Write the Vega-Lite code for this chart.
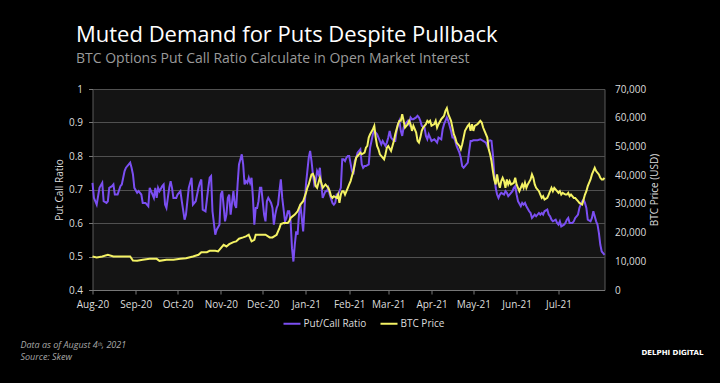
{
  "$schema": "https://vega.github.io/schema/vega-lite/v6.json",
  "width": 512,
  "height": 201,
  "autosize": {"type": "none"},
  "padding": {"left": 92.5, "top": 89, "right": 115.5, "bottom": 93},
  "background": "#000000",
  "title": {
    "text": "Muted Demand for Puts Despite Pullback",
    "subtitle": "BTC Options Put Call Ratio Calculate in Open Market Interest",
    "anchor": "start",
    "frame": "group",
    "dx": -16.5,
    "font": "Open Sans",
    "fontSize": 22,
    "fontWeight": "normal",
    "color": "#ffffff",
    "subtitleFont": "Open Sans",
    "subtitleFontSize": 14,
    "subtitleColor": "#9a9a9a",
    "subtitlePadding": 5,
    "offset": 17
  },
  "datasets": {
    "pcr": [
      {"date": "2020-08-01T00:00", "value": 0.72},
      {"date": "2020-08-02T00:00", "value": 0.675},
      {"date": "2020-08-04T00:00", "value": 0.655},
      {"date": "2020-08-06T00:00", "value": 0.705},
      {"date": "2020-08-08T00:00", "value": 0.72},
      {"date": "2020-08-09T00:00", "value": 0.665},
      {"date": "2020-08-11T00:00", "value": 0.66},
      {"date": "2020-08-12T00:00", "value": 0.665},
      {"date": "2020-08-13T00:00", "value": 0.705},
      {"date": "2020-08-15T00:00", "value": 0.71},
      {"date": "2020-08-16T00:00", "value": 0.715},
      {"date": "2020-08-17T00:00", "value": 0.685},
      {"date": "2020-08-19T00:00", "value": 0.685},
      {"date": "2020-08-21T00:00", "value": 0.71},
      {"date": "2020-08-22T00:00", "value": 0.715},
      {"date": "2020-08-24T00:00", "value": 0.755},
      {"date": "2020-08-25T00:00", "value": 0.765},
      {"date": "2020-08-27T00:00", "value": 0.775},
      {"date": "2020-08-28T00:00", "value": 0.78},
      {"date": "2020-08-29T00:00", "value": 0.765},
      {"date": "2020-08-30T00:00", "value": 0.745},
      {"date": "2020-08-31T00:00", "value": 0.705},
      {"date": "2020-09-02T00:00", "value": 0.69},
      {"date": "2020-09-03T00:00", "value": 0.695},
      {"date": "2020-09-05T00:00", "value": 0.685},
      {"date": "2020-09-06T00:00", "value": 0.66},
      {"date": "2020-09-08T00:00", "value": 0.66},
      {"date": "2020-09-10T00:00", "value": 0.65},
      {"date": "2020-09-11T00:00", "value": 0.705},
      {"date": "2020-09-12T00:00", "value": 0.695},
      {"date": "2020-09-14T00:00", "value": 0.675},
      {"date": "2020-09-15T00:00", "value": 0.705},
      {"date": "2020-09-16T00:00", "value": 0.675},
      {"date": "2020-09-17T00:00", "value": 0.705},
      {"date": "2020-09-18T00:00", "value": 0.695},
      {"date": "2020-09-20T00:00", "value": 0.71},
      {"date": "2020-09-21T00:00", "value": 0.715},
      {"date": "2020-09-22T00:00", "value": 0.655},
      {"date": "2020-09-23T00:00", "value": 0.645},
      {"date": "2020-09-25T00:00", "value": 0.705},
      {"date": "2020-09-26T00:00", "value": 0.725},
      {"date": "2020-09-27T00:00", "value": 0.705},
      {"date": "2020-09-28T00:00", "value": 0.675},
      {"date": "2020-09-30T00:00", "value": 0.675},
      {"date": "2020-10-01T00:00", "value": 0.685},
      {"date": "2020-10-03T00:00", "value": 0.695},
      {"date": "2020-10-04T00:00", "value": 0.665},
      {"date": "2020-10-06T00:00", "value": 0.61},
      {"date": "2020-10-07T00:00", "value": 0.625},
      {"date": "2020-10-09T00:00", "value": 0.705},
      {"date": "2020-10-11T00:00", "value": 0.735},
      {"date": "2020-10-12T00:00", "value": 0.655},
      {"date": "2020-10-14T00:00", "value": 0.665},
      {"date": "2020-10-16T00:00", "value": 0.705},
      {"date": "2020-10-17T00:00", "value": 0.72},
      {"date": "2020-10-18T00:00", "value": 0.73},
      {"date": "2020-10-19T00:00", "value": 0.64},
      {"date": "2020-10-21T00:00", "value": 0.635},
      {"date": "2020-10-23T00:00", "value": 0.705},
      {"date": "2020-10-24T00:00", "value": 0.735},
      {"date": "2020-10-25T00:00", "value": 0.74},
      {"date": "2020-10-26T00:00", "value": 0.635},
      {"date": "2020-10-28T00:00", "value": 0.565},
      {"date": "2020-10-29T00:00", "value": 0.58},
      {"date": "2020-10-31T00:00", "value": 0.595},
      {"date": "2020-11-01T00:00", "value": 0.685},
      {"date": "2020-11-02T00:00", "value": 0.695},
      {"date": "2020-11-04T00:00", "value": 0.605},
      {"date": "2020-11-05T00:00", "value": 0.625},
      {"date": "2020-11-06T00:00", "value": 0.675},
      {"date": "2020-11-07T00:00", "value": 0.685},
      {"date": "2020-11-08T00:00", "value": 0.625},
      {"date": "2020-11-10T00:00", "value": 0.695},
      {"date": "2020-11-11T00:00", "value": 0.655},
      {"date": "2020-11-12T00:00", "value": 0.645},
      {"date": "2020-11-13T00:00", "value": 0.715},
      {"date": "2020-11-14T00:00", "value": 0.775},
      {"date": "2020-11-16T00:00", "value": 0.805},
      {"date": "2020-11-17T00:00", "value": 0.775},
      {"date": "2020-11-18T00:00", "value": 0.715},
      {"date": "2020-11-19T00:00", "value": 0.725},
      {"date": "2020-11-20T00:00", "value": 0.72},
      {"date": "2020-11-21T00:00", "value": 0.735},
      {"date": "2020-11-22T00:00", "value": 0.72},
      {"date": "2020-11-23T00:00", "value": 0.735},
      {"date": "2020-11-24T00:00", "value": 0.675},
      {"date": "2020-11-25T00:00", "value": 0.595},
      {"date": "2020-11-26T00:00", "value": 0.645},
      {"date": "2020-11-27T00:00", "value": 0.645},
      {"date": "2020-11-28T00:00", "value": 0.665},
      {"date": "2020-11-29T00:00", "value": 0.705},
      {"date": "2020-11-30T00:00", "value": 0.705},
      {"date": "2020-12-02T00:00", "value": 0.625},
      {"date": "2020-12-03T00:00", "value": 0.605},
      {"date": "2020-12-04T00:00", "value": 0.665},
      {"date": "2020-12-05T00:00", "value": 0.675},
      {"date": "2020-12-07T00:00", "value": 0.66},
      {"date": "2020-12-08T00:00", "value": 0.645},
      {"date": "2020-12-09T00:00", "value": 0.595},
      {"date": "2020-12-10T00:00", "value": 0.625},
      {"date": "2020-12-11T00:00", "value": 0.645},
      {"date": "2020-12-12T00:00", "value": 0.655},
      {"date": "2020-12-13T00:00", "value": 0.695},
      {"date": "2020-12-14T00:00", "value": 0.73},
      {"date": "2020-12-15T00:00", "value": 0.675},
      {"date": "2020-12-17T00:00", "value": 0.605},
      {"date": "2020-12-18T00:00", "value": 0.615},
      {"date": "2020-12-19T00:00", "value": 0.635},
      {"date": "2020-12-20T00:00", "value": 0.635},
      {"date": "2020-12-21T00:00", "value": 0.605},
      {"date": "2020-12-22T00:00", "value": 0.525},
      {"date": "2020-12-23T00:00", "value": 0.485},
      {"date": "2020-12-24T00:00", "value": 0.535},
      {"date": "2020-12-25T00:00", "value": 0.575},
      {"date": "2020-12-26T00:00", "value": 0.565},
      {"date": "2020-12-27T00:00", "value": 0.625},
      {"date": "2020-12-28T00:00", "value": 0.655},
      {"date": "2020-12-29T00:00", "value": 0.615},
      {"date": "2020-12-30T00:00", "value": 0.575},
      {"date": "2020-12-31T00:00", "value": 0.645},
      {"date": "2021-01-01T00:00", "value": 0.715},
      {"date": "2021-01-02T00:00", "value": 0.755},
      {"date": "2021-01-03T00:00", "value": 0.795},
      {"date": "2021-01-04T00:00", "value": 0.815},
      {"date": "2021-01-05T00:00", "value": 0.785},
      {"date": "2021-01-06T00:00", "value": 0.745},
      {"date": "2021-01-07T00:00", "value": 0.715},
      {"date": "2021-01-08T00:00", "value": 0.725},
      {"date": "2021-01-09T00:00", "value": 0.755},
      {"date": "2021-01-10T00:00", "value": 0.745},
      {"date": "2021-01-11T00:00", "value": 0.765},
      {"date": "2021-01-12T00:00", "value": 0.715},
      {"date": "2021-01-13T00:00", "value": 0.675},
      {"date": "2021-01-15T00:00", "value": 0.695},
      {"date": "2021-01-16T00:00", "value": 0.695},
      {"date": "2021-01-17T00:00", "value": 0.705},
      {"date": "2021-01-18T00:00", "value": 0.685},
      {"date": "2021-01-20T00:00", "value": 0.66},
      {"date": "2021-01-21T00:00", "value": 0.655},
      {"date": "2021-01-22T00:00", "value": 0.66},
      {"date": "2021-01-23T00:00", "value": 0.685},
      {"date": "2021-01-24T00:00", "value": 0.685},
      {"date": "2021-01-26T00:00", "value": 0.705},
      {"date": "2021-01-27T00:00", "value": 0.79},
      {"date": "2021-01-28T00:00", "value": 0.79},
      {"date": "2021-01-29T00:00", "value": 0.785},
      {"date": "2021-01-30T00:00", "value": 0.795},
      {"date": "2021-01-31T00:00", "value": 0.8},
      {"date": "2021-02-01T00:00", "value": 0.8},
      {"date": "2021-02-03T00:00", "value": 0.755},
      {"date": "2021-02-04T00:00", "value": 0.745},
      {"date": "2021-02-05T00:00", "value": 0.785},
      {"date": "2021-02-06T00:00", "value": 0.795},
      {"date": "2021-02-07T00:00", "value": 0.81},
      {"date": "2021-02-09T00:00", "value": 0.82},
      {"date": "2021-02-10T00:00", "value": 0.775},
      {"date": "2021-02-11T00:00", "value": 0.765},
      {"date": "2021-02-12T00:00", "value": 0.77},
      {"date": "2021-02-13T00:00", "value": 0.77},
      {"date": "2021-02-15T00:00", "value": 0.775},
      {"date": "2021-02-16T00:00", "value": 0.825},
      {"date": "2021-02-17T00:00", "value": 0.845},
      {"date": "2021-02-18T00:00", "value": 0.865},
      {"date": "2021-02-19T00:00", "value": 0.875},
      {"date": "2021-02-21T00:00", "value": 0.865},
      {"date": "2021-02-22T00:00", "value": 0.855},
      {"date": "2021-02-23T00:00", "value": 0.845},
      {"date": "2021-02-24T00:00", "value": 0.835},
      {"date": "2021-02-25T00:00", "value": 0.845},
      {"date": "2021-02-27T00:00", "value": 0.83},
      {"date": "2021-02-28T00:00", "value": 0.84},
      {"date": "2021-03-01T00:00", "value": 0.855},
      {"date": "2021-03-02T00:00", "value": 0.875},
      {"date": "2021-03-03T00:00", "value": 0.855},
      {"date": "2021-03-05T00:00", "value": 0.845},
      {"date": "2021-03-06T00:00", "value": 0.845},
      {"date": "2021-03-07T00:00", "value": 0.875},
      {"date": "2021-03-08T00:00", "value": 0.895},
      {"date": "2021-03-09T00:00", "value": 0.905},
      {"date": "2021-03-10T00:00", "value": 0.875},
      {"date": "2021-03-11T00:00", "value": 0.86},
      {"date": "2021-03-12T00:00", "value": 0.885},
      {"date": "2021-03-13T00:00", "value": 0.895},
      {"date": "2021-03-15T00:00", "value": 0.905},
      {"date": "2021-03-16T00:00", "value": 0.895},
      {"date": "2021-03-17T00:00", "value": 0.915},
      {"date": "2021-03-18T00:00", "value": 0.91},
      {"date": "2021-03-19T00:00", "value": 0.91},
      {"date": "2021-03-21T00:00", "value": 0.915},
      {"date": "2021-03-22T00:00", "value": 0.92},
      {"date": "2021-03-23T00:00", "value": 0.915},
      {"date": "2021-03-24T00:00", "value": 0.905},
      {"date": "2021-03-25T00:00", "value": 0.89},
      {"date": "2021-03-27T00:00", "value": 0.885},
      {"date": "2021-03-28T00:00", "value": 0.86},
      {"date": "2021-03-29T00:00", "value": 0.85},
      {"date": "2021-03-30T00:00", "value": 0.865},
      {"date": "2021-03-31T00:00", "value": 0.855},
      {"date": "2021-04-01T00:00", "value": 0.845},
      {"date": "2021-04-03T00:00", "value": 0.85},
      {"date": "2021-04-04T00:00", "value": 0.845},
      {"date": "2021-04-05T00:00", "value": 0.84},
      {"date": "2021-04-06T00:00", "value": 0.855},
      {"date": "2021-04-08T00:00", "value": 0.85},
      {"date": "2021-04-09T00:00", "value": 0.88},
      {"date": "2021-04-10T00:00", "value": 0.895},
      {"date": "2021-04-11T00:00", "value": 0.905},
      {"date": "2021-04-12T00:00", "value": 0.915},
      {"date": "2021-04-13T00:00", "value": 0.905},
      {"date": "2021-04-15T00:00", "value": 0.875},
      {"date": "2021-04-16T00:00", "value": 0.855},
      {"date": "2021-04-17T00:00", "value": 0.855},
      {"date": "2021-04-18T00:00", "value": 0.845},
      {"date": "2021-04-19T00:00", "value": 0.83},
      {"date": "2021-04-21T00:00", "value": 0.81},
      {"date": "2021-04-22T00:00", "value": 0.795},
      {"date": "2021-04-23T00:00", "value": 0.77},
      {"date": "2021-04-24T00:00", "value": 0.765},
      {"date": "2021-04-25T00:00", "value": 0.77},
      {"date": "2021-04-27T00:00", "value": 0.78},
      {"date": "2021-04-28T00:00", "value": 0.815},
      {"date": "2021-04-29T00:00", "value": 0.845},
      {"date": "2021-04-30T00:00", "value": 0.845},
      {"date": "2021-05-01T00:00", "value": 0.847},
      {"date": "2021-05-04T00:00", "value": 0.847},
      {"date": "2021-05-06T00:00", "value": 0.85},
      {"date": "2021-05-08T00:00", "value": 0.845},
      {"date": "2021-05-10T00:00", "value": 0.84},
      {"date": "2021-05-11T00:00", "value": 0.83},
      {"date": "2021-05-12T00:00", "value": 0.845},
      {"date": "2021-05-13T00:00", "value": 0.847},
      {"date": "2021-05-14T00:00", "value": 0.845},
      {"date": "2021-05-15T00:00", "value": 0.805},
      {"date": "2021-05-16T00:00", "value": 0.745},
      {"date": "2021-05-17T00:00", "value": 0.705},
      {"date": "2021-05-18T00:00", "value": 0.685},
      {"date": "2021-05-19T00:00", "value": 0.675},
      {"date": "2021-05-20T00:00", "value": 0.685},
      {"date": "2021-05-21T00:00", "value": 0.69},
      {"date": "2021-05-23T00:00", "value": 0.685},
      {"date": "2021-05-24T00:00", "value": 0.695},
      {"date": "2021-05-25T00:00", "value": 0.69},
      {"date": "2021-05-26T00:00", "value": 0.68},
      {"date": "2021-05-27T00:00", "value": 0.685},
      {"date": "2021-05-29T00:00", "value": 0.695},
      {"date": "2021-05-30T00:00", "value": 0.705},
      {"date": "2021-05-31T00:00", "value": 0.71},
      {"date": "2021-06-01T00:00", "value": 0.685},
      {"date": "2021-06-02T00:00", "value": 0.665},
      {"date": "2021-06-04T00:00", "value": 0.65},
      {"date": "2021-06-05T00:00", "value": 0.66},
      {"date": "2021-06-06T00:00", "value": 0.655},
      {"date": "2021-06-07T00:00", "value": 0.66},
      {"date": "2021-06-08T00:00", "value": 0.65},
      {"date": "2021-06-10T00:00", "value": 0.635},
      {"date": "2021-06-11T00:00", "value": 0.63},
      {"date": "2021-06-12T00:00", "value": 0.615},
      {"date": "2021-06-13T00:00", "value": 0.62},
      {"date": "2021-06-14T00:00", "value": 0.625},
      {"date": "2021-06-15T00:00", "value": 0.62},
      {"date": "2021-06-17T00:00", "value": 0.63},
      {"date": "2021-06-18T00:00", "value": 0.625},
      {"date": "2021-06-19T00:00", "value": 0.63},
      {"date": "2021-06-20T00:00", "value": 0.625},
      {"date": "2021-06-21T00:00", "value": 0.635},
      {"date": "2021-06-23T00:00", "value": 0.64},
      {"date": "2021-06-24T00:00", "value": 0.625},
      {"date": "2021-06-25T00:00", "value": 0.62},
      {"date": "2021-06-26T00:00", "value": 0.61},
      {"date": "2021-06-27T00:00", "value": 0.605},
      {"date": "2021-06-29T00:00", "value": 0.61},
      {"date": "2021-06-30T00:00", "value": 0.6},
      {"date": "2021-07-01T00:00", "value": 0.595},
      {"date": "2021-07-02T00:00", "value": 0.605},
      {"date": "2021-07-03T00:00", "value": 0.59},
      {"date": "2021-07-05T00:00", "value": 0.595},
      {"date": "2021-07-06T00:00", "value": 0.6},
      {"date": "2021-07-07T00:00", "value": 0.61},
      {"date": "2021-07-08T00:00", "value": 0.615},
      {"date": "2021-07-09T00:00", "value": 0.6},
      {"date": "2021-07-11T00:00", "value": 0.6},
      {"date": "2021-07-12T00:00", "value": 0.605},
      {"date": "2021-07-13T00:00", "value": 0.615},
      {"date": "2021-07-14T00:00", "value": 0.62},
      {"date": "2021-07-15T00:00", "value": 0.625},
      {"date": "2021-07-16T00:00", "value": 0.645},
      {"date": "2021-07-18T00:00", "value": 0.665},
      {"date": "2021-07-19T00:00", "value": 0.67},
      {"date": "2021-07-20T00:00", "value": 0.66},
      {"date": "2021-07-21T00:00", "value": 0.645},
      {"date": "2021-07-22T00:00", "value": 0.61},
      {"date": "2021-07-24T00:00", "value": 0.605},
      {"date": "2021-07-25T00:00", "value": 0.615},
      {"date": "2021-07-26T00:00", "value": 0.635},
      {"date": "2021-07-27T00:00", "value": 0.62},
      {"date": "2021-07-28T00:00", "value": 0.605},
      {"date": "2021-07-29T00:00", "value": 0.595},
      {"date": "2021-07-30T00:00", "value": 0.57},
      {"date": "2021-07-31T00:00", "value": 0.535},
      {"date": "2021-08-01T00:00", "value": 0.515},
      {"date": "2021-08-02T00:00", "value": 0.51},
      {"date": "2021-08-03T00:00", "value": 0.505}
    ],
    "btc": [
      {"date": "2020-08-01T00:00", "value": 11670},
      {"date": "2020-08-04T00:00", "value": 11300},
      {"date": "2020-08-08T00:00", "value": 11670},
      {"date": "2020-08-12T00:00", "value": 12250},
      {"date": "2020-08-16T00:00", "value": 11670},
      {"date": "2020-08-21T00:00", "value": 11670},
      {"date": "2020-08-25T00:00", "value": 11670},
      {"date": "2020-08-28T00:00", "value": 11670},
      {"date": "2020-08-30T00:00", "value": 10270},
      {"date": "2020-09-02T00:00", "value": 10150},
      {"date": "2020-09-06T00:00", "value": 10500},
      {"date": "2020-09-11T00:00", "value": 10850},
      {"date": "2020-09-16T00:00", "value": 10850},
      {"date": "2020-09-18T00:00", "value": 10150},
      {"date": "2020-09-23T00:00", "value": 10500},
      {"date": "2020-09-28T00:00", "value": 10500},
      {"date": "2020-10-03T00:00", "value": 10850},
      {"date": "2020-10-07T00:00", "value": 11080},
      {"date": "2020-10-12T00:00", "value": 11670},
      {"date": "2020-10-16T00:00", "value": 12250},
      {"date": "2020-10-18T00:00", "value": 13180},
      {"date": "2020-10-22T00:00", "value": 13180},
      {"date": "2020-10-24T00:00", "value": 13650},
      {"date": "2020-10-28T00:00", "value": 13650},
      {"date": "2020-10-30T00:00", "value": 13420},
      {"date": "2020-11-01T00:00", "value": 14580},
      {"date": "2020-11-03T00:00", "value": 15750},
      {"date": "2020-11-05T00:00", "value": 15170},
      {"date": "2020-11-07T00:00", "value": 15980},
      {"date": "2020-11-10T00:00", "value": 16680},
      {"date": "2020-11-12T00:00", "value": 16920},
      {"date": "2020-11-14T00:00", "value": 17850},
      {"date": "2020-11-17T00:00", "value": 18320},
      {"date": "2020-11-19T00:00", "value": 18670},
      {"date": "2020-11-21T00:00", "value": 19250},
      {"date": "2020-11-23T00:00", "value": 16920},
      {"date": "2020-11-25T00:00", "value": 17500},
      {"date": "2020-11-26T00:00", "value": 19250},
      {"date": "2020-11-29T00:00", "value": 19250},
      {"date": "2020-12-01T00:00", "value": 19250},
      {"date": "2020-12-03T00:00", "value": 19250},
      {"date": "2020-12-06T00:00", "value": 18320},
      {"date": "2020-12-08T00:00", "value": 18320},
      {"date": "2020-12-11T00:00", "value": 19250},
      {"date": "2020-12-12T00:00", "value": 20420},
      {"date": "2020-12-13T00:00", "value": 21580},
      {"date": "2020-12-14T00:00", "value": 22980},
      {"date": "2020-12-16T00:00", "value": 23330},
      {"date": "2020-12-19T00:00", "value": 23330},
      {"date": "2020-12-20T00:00", "value": 23920},
      {"date": "2020-12-21T00:00", "value": 25080},
      {"date": "2020-12-24T00:00", "value": 26250},
      {"date": "2020-12-26T00:00", "value": 27420},
      {"date": "2020-12-28T00:00", "value": 29750},
      {"date": "2020-12-30T00:00", "value": 30920},
      {"date": "2021-01-01T00:00", "value": 33830},
      {"date": "2021-01-02T00:00", "value": 35580},
      {"date": "2021-01-03T00:00", "value": 36750},
      {"date": "2021-01-05T00:00", "value": 40250},
      {"date": "2021-01-06T00:00", "value": 40480},
      {"date": "2021-01-07T00:00", "value": 39080},
      {"date": "2021-01-08T00:00", "value": 36170},
      {"date": "2021-01-09T00:00", "value": 35580},
      {"date": "2021-01-11T00:00", "value": 39080},
      {"date": "2021-01-12T00:00", "value": 37330},
      {"date": "2021-01-13T00:00", "value": 35580},
      {"date": "2021-01-14T00:00", "value": 36170},
      {"date": "2021-01-15T00:00", "value": 36750},
      {"date": "2021-01-17T00:00", "value": 35580},
      {"date": "2021-01-18T00:00", "value": 34420},
      {"date": "2021-01-19T00:00", "value": 32670},
      {"date": "2021-01-20T00:00", "value": 32080},
      {"date": "2021-01-21T00:00", "value": 32670},
      {"date": "2021-01-23T00:00", "value": 32080},
      {"date": "2021-01-24T00:00", "value": 33250},
      {"date": "2021-01-25T00:00", "value": 30330},
      {"date": "2021-01-26T00:00", "value": 33250},
      {"date": "2021-01-27T00:00", "value": 34420},
      {"date": "2021-01-28T00:00", "value": 34420},
      {"date": "2021-01-29T00:00", "value": 33250},
      {"date": "2021-01-31T00:00", "value": 35580},
      {"date": "2021-02-01T00:00", "value": 36750},
      {"date": "2021-02-02T00:00", "value": 37920},
      {"date": "2021-02-03T00:00", "value": 39670},
      {"date": "2021-02-04T00:00", "value": 41420},
      {"date": "2021-02-06T00:00", "value": 46080},
      {"date": "2021-02-07T00:00", "value": 46670},
      {"date": "2021-02-08T00:00", "value": 47250},
      {"date": "2021-02-09T00:00", "value": 47830},
      {"date": "2021-02-10T00:00", "value": 47250},
      {"date": "2021-02-12T00:00", "value": 47830},
      {"date": "2021-02-13T00:00", "value": 49580},
      {"date": "2021-02-14T00:00", "value": 50170},
      {"date": "2021-02-15T00:00", "value": 53080},
      {"date": "2021-02-16T00:00", "value": 54250},
      {"date": "2021-02-18T00:00", "value": 56000},
      {"date": "2021-02-19T00:00", "value": 57170},
      {"date": "2021-02-20T00:00", "value": 53080},
      {"date": "2021-02-21T00:00", "value": 50170},
      {"date": "2021-02-22T00:00", "value": 49000},
      {"date": "2021-02-23T00:00", "value": 47250},
      {"date": "2021-02-25T00:00", "value": 46080},
      {"date": "2021-02-26T00:00", "value": 45500},
      {"date": "2021-02-27T00:00", "value": 47250},
      {"date": "2021-02-28T00:00", "value": 49580},
      {"date": "2021-03-01T00:00", "value": 50170},
      {"date": "2021-03-03T00:00", "value": 48420},
      {"date": "2021-03-04T00:00", "value": 50170},
      {"date": "2021-03-05T00:00", "value": 51920},
      {"date": "2021-03-06T00:00", "value": 54250},
      {"date": "2021-03-08T00:00", "value": 57750},
      {"date": "2021-03-09T00:00", "value": 58920},
      {"date": "2021-03-10T00:00", "value": 58920},
      {"date": "2021-03-11T00:00", "value": 61250},
      {"date": "2021-03-12T00:00", "value": 58920},
      {"date": "2021-03-13T00:00", "value": 56580},
      {"date": "2021-03-15T00:00", "value": 57750},
      {"date": "2021-03-16T00:00", "value": 58920},
      {"date": "2021-03-17T00:00", "value": 57750},
      {"date": "2021-03-18T00:00", "value": 55420},
      {"date": "2021-03-19T00:00", "value": 57170},
      {"date": "2021-03-21T00:00", "value": 54830},
      {"date": "2021-03-22T00:00", "value": 51920},
      {"date": "2021-03-23T00:00", "value": 51330},
      {"date": "2021-03-24T00:00", "value": 53080},
      {"date": "2021-03-25T00:00", "value": 55420},
      {"date": "2021-03-26T00:00", "value": 56580},
      {"date": "2021-03-28T00:00", "value": 57750},
      {"date": "2021-03-29T00:00", "value": 58920},
      {"date": "2021-03-30T00:00", "value": 58330},
      {"date": "2021-03-31T00:00", "value": 58920},
      {"date": "2021-04-01T00:00", "value": 57170},
      {"date": "2021-04-03T00:00", "value": 57750},
      {"date": "2021-04-04T00:00", "value": 58920},
      {"date": "2021-04-05T00:00", "value": 56580},
      {"date": "2021-04-06T00:00", "value": 57750},
      {"date": "2021-04-08T00:00", "value": 59500},
      {"date": "2021-04-09T00:00", "value": 60080},
      {"date": "2021-04-10T00:00", "value": 60670},
      {"date": "2021-04-11T00:00", "value": 62420},
      {"date": "2021-04-12T00:00", "value": 63350},
      {"date": "2021-04-13T00:00", "value": 61250},
      {"date": "2021-04-15T00:00", "value": 58920},
      {"date": "2021-04-16T00:00", "value": 56580},
      {"date": "2021-04-17T00:00", "value": 54250},
      {"date": "2021-04-18T00:00", "value": 53080},
      {"date": "2021-04-19T00:00", "value": 51330},
      {"date": "2021-04-21T00:00", "value": 50170},
      {"date": "2021-04-22T00:00", "value": 49000},
      {"date": "2021-04-23T00:00", "value": 50750},
      {"date": "2021-04-24T00:00", "value": 53080},
      {"date": "2021-04-25T00:00", "value": 55420},
      {"date": "2021-04-27T00:00", "value": 57170},
      {"date": "2021-04-28T00:00", "value": 57750},
      {"date": "2021-04-29T00:00", "value": 55420},
      {"date": "2021-04-30T00:00", "value": 57750},
      {"date": "2021-05-01T00:00", "value": 55420},
      {"date": "2021-05-02T00:00", "value": 57170},
      {"date": "2021-05-04T00:00", "value": 57750},
      {"date": "2021-05-05T00:00", "value": 58330},
      {"date": "2021-05-06T00:00", "value": 58920},
      {"date": "2021-05-07T00:00", "value": 58330},
      {"date": "2021-05-08T00:00", "value": 56580},
      {"date": "2021-05-09T00:00", "value": 55420},
      {"date": "2021-05-11T00:00", "value": 53080},
      {"date": "2021-05-12T00:00", "value": 49000},
      {"date": "2021-05-13T00:00", "value": 47250},
      {"date": "2021-05-14T00:00", "value": 44920},
      {"date": "2021-05-15T00:00", "value": 41420},
      {"date": "2021-05-16T00:00", "value": 38500},
      {"date": "2021-05-17T00:00", "value": 36750},
      {"date": "2021-05-18T00:00", "value": 40250},
      {"date": "2021-05-19T00:00", "value": 37330},
      {"date": "2021-05-20T00:00", "value": 35580},
      {"date": "2021-05-21T00:00", "value": 37920},
      {"date": "2021-05-22T00:00", "value": 39080},
      {"date": "2021-05-23T00:00", "value": 37920},
      {"date": "2021-05-24T00:00", "value": 35580},
      {"date": "2021-05-25T00:00", "value": 38500},
      {"date": "2021-05-26T00:00", "value": 36750},
      {"date": "2021-05-27T00:00", "value": 37920},
      {"date": "2021-05-28T00:00", "value": 36750},
      {"date": "2021-05-30T00:00", "value": 37330},
      {"date": "2021-05-31T00:00", "value": 39080},
      {"date": "2021-06-01T00:00", "value": 36750},
      {"date": "2021-06-02T00:00", "value": 35580},
      {"date": "2021-06-03T00:00", "value": 34420},
      {"date": "2021-06-05T00:00", "value": 36750},
      {"date": "2021-06-06T00:00", "value": 35580},
      {"date": "2021-06-07T00:00", "value": 37330},
      {"date": "2021-06-08T00:00", "value": 35580},
      {"date": "2021-06-09T00:00", "value": 36750},
      {"date": "2021-06-11T00:00", "value": 38500},
      {"date": "2021-06-12T00:00", "value": 40250},
      {"date": "2021-06-13T00:00", "value": 39080},
      {"date": "2021-06-14T00:00", "value": 36750},
      {"date": "2021-06-15T00:00", "value": 35580},
      {"date": "2021-06-17T00:00", "value": 34420},
      {"date": "2021-06-18T00:00", "value": 33250},
      {"date": "2021-06-19T00:00", "value": 32080},
      {"date": "2021-06-20T00:00", "value": 32670},
      {"date": "2021-06-21T00:00", "value": 31500},
      {"date": "2021-06-23T00:00", "value": 32080},
      {"date": "2021-06-24T00:00", "value": 33250},
      {"date": "2021-06-25T00:00", "value": 34420},
      {"date": "2021-06-26T00:00", "value": 35580},
      {"date": "2021-06-27T00:00", "value": 34420},
      {"date": "2021-06-28T00:00", "value": 35580},
      {"date": "2021-06-30T00:00", "value": 34420},
      {"date": "2021-07-01T00:00", "value": 33830},
      {"date": "2021-07-02T00:00", "value": 34420},
      {"date": "2021-07-03T00:00", "value": 33250},
      {"date": "2021-07-04T00:00", "value": 33830},
      {"date": "2021-07-06T00:00", "value": 33250},
      {"date": "2021-07-07T00:00", "value": 33250},
      {"date": "2021-07-08T00:00", "value": 33830},
      {"date": "2021-07-09T00:00", "value": 32670},
      {"date": "2021-07-10T00:00", "value": 33250},
      {"date": "2021-07-12T00:00", "value": 32080},
      {"date": "2021-07-13T00:00", "value": 32080},
      {"date": "2021-07-14T00:00", "value": 31500},
      {"date": "2021-07-15T00:00", "value": 30920},
      {"date": "2021-07-16T00:00", "value": 30330},
      {"date": "2021-07-18T00:00", "value": 29750},
      {"date": "2021-07-19T00:00", "value": 31500},
      {"date": "2021-07-20T00:00", "value": 33250},
      {"date": "2021-07-21T00:00", "value": 34420},
      {"date": "2021-07-22T00:00", "value": 36170},
      {"date": "2021-07-24T00:00", "value": 38500},
      {"date": "2021-07-25T00:00", "value": 40250},
      {"date": "2021-07-26T00:00", "value": 41420},
      {"date": "2021-07-27T00:00", "value": 42580},
      {"date": "2021-07-28T00:00", "value": 41420},
      {"date": "2021-07-30T00:00", "value": 40250},
      {"date": "2021-07-31T00:00", "value": 39080},
      {"date": "2021-08-01T00:00", "value": 38500},
      {"date": "2021-08-02T00:00", "value": 38500},
      {"date": "2021-08-03T00:00", "value": 39080}
    ]
  },
  "layer": [
    {
      "data": {"name": "pcr"},
      "mark": {"type": "line", "strokeWidth": 2, "interpolate": "linear"},
      "encoding": {
        "x": {
          "field": "date",
          "type": "temporal",
          "scale": {"domain": [{"year": 2020, "month": 8, "date": 1}, {"year": 2021, "month": 8, "date": 3}]},
          "axis": {
            "orient": "bottom",
            "format": "%b-%y",
            "values": [
              {"year": 2020, "month": 8, "date": 1},
              {"year": 2020, "month": 9, "date": 1},
              {"year": 2020, "month": 10, "date": 1},
              {"year": 2020, "month": 11, "date": 1},
              {"year": 2020, "month": 12, "date": 1},
              {"year": 2021, "month": 1, "date": 1},
              {"year": 2021, "month": 2, "date": 1},
              {"year": 2021, "month": 3, "date": 1},
              {"year": 2021, "month": 4, "date": 1},
              {"year": 2021, "month": 5, "date": 1},
              {"year": 2021, "month": 6, "date": 1},
              {"year": 2021, "month": 7, "date": 1}
            ],
            "grid": false,
            "domain": true,
            "domainColor": "#777777",
            "ticks": true,
            "tickColor": "#777777",
            "tickSize": 4,
            "labelPadding": 5,
            "labelFlush": false,
            "labelOverlap": false,
            "labelColor": "#dddddd",
            "labelFont": "Open Sans",
            "labelFontSize": 10,
            "title": ["Data as of August 4ᵗʰ, 2021", "Source: Skew"],
            "titleFont": "Open Sans",
            "titleFontStyle": "italic",
            "titleFontWeight": "normal",
            "titleFontSize": 9,
            "titleColor": "#a8a8a8",
            "titleAlign": "left",
            "titleBaseline": "top",
            "titleAnchor": "start",
            "titleLineHeight": 12,
            "titleX": -72.5,
            "titleY": 50
          }
        },
        "y": {
          "field": "value",
          "type": "quantitative",
          "scale": {"domain": [0.4, 1], "nice": false, "zero": false},
          "axis": {
            "orient": "left",
            "values": [0.4, 0.5, 0.6, 0.7, 0.8, 0.9, 1],
            "format": "~g",
            "grid": true,
            "gridColor": "#505050",
            "gridWidth": 1,
            "domain": false,
            "ticks": true,
            "tickColor": "#777777",
            "tickSize": 4,
            "labelPadding": 6,
            "labelColor": "#dddddd",
            "labelFont": "Open Sans",
            "labelFontSize": 10,
            "title": "Put Call Ratio",
            "titleColor": "#dddddd",
            "titleFont": "Open Sans",
            "titleFontSize": 10,
            "titleFontWeight": "normal",
            "titlePadding": 4
          }
        },
        "color": {
          "datum": "Put/Call Ratio",
          "type": "nominal",
          "scale": {"domain": ["Put/Call Ratio", "BTC Price"], "range": ["#7b4ff2", "#f4f264"]},
          "legend": {
            "orient": "none",
            "legendX": 190,
            "legendY": 225,
            "direction": "horizontal",
            "title": null,
            "symbolType": "stroke",
            "symbolSize": 289,
            "symbolStrokeWidth": 2,
            "labelColor": "#dddddd",
            "labelFont": "Open Sans",
            "labelFontSize": 10,
            "labelOffset": 2,
            "columnPadding": 10
          }
        }
      }
    },
    {
      "data": {"name": "btc"},
      "mark": {"type": "line", "strokeWidth": 2, "interpolate": "linear"},
      "encoding": {
        "x": {
          "field": "date",
          "type": "temporal",
          "axis": {
            "orient": "top",
            "labels": false,
            "ticks": false,
            "domain": false,
            "grid": false,
            "title": "DELPHI DIGITAL",
            "titleFont": "DejaVu Sans",
            "titleFontSize": 7,
            "titleFontWeight": "bold",
            "titleColor": "#ffffff",
            "titleAlign": "left",
            "titleBaseline": "middle",
            "titleAnchor": "start",
            "titleX": 548.5,
            "titleY": 263
          }
        },
        "y": {
          "field": "value",
          "type": "quantitative",
          "scale": {"domain": [0, 70000], "nice": false},
          "axis": {
            "orient": "right",
            "values": [0, 10000, 20000, 30000, 40000, 50000, 60000, 70000],
            "format": ",.0f",
            "grid": false,
            "domain": false,
            "ticks": false,
            "labelPadding": 10,
            "labelColor": "#dddddd",
            "labelFont": "Open Sans",
            "labelFontSize": 10,
            "title": "BTC Price (USD)",
            "titleAngle": 270,
            "titleColor": "#dddddd",
            "titleFont": "Open Sans",
            "titleFontSize": 10,
            "titleFontWeight": "normal",
            "titlePadding": 14
          }
        },
        "color": {"datum": "BTC Price", "type": "nominal"}
      }
    }
  ],
  "resolve": {"scale": {"y": "independent"}, "axis": {"x": "independent"}},
  "config": {
    "view": {"fill": "#141414", "stroke": "#5a5a5a", "strokeWidth": 1}
  }
}
